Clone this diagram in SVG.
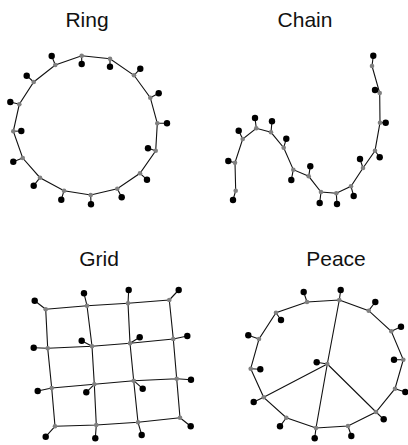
<svg xmlns="http://www.w3.org/2000/svg" width="408" height="445" viewBox="0 0 408 445">
<style>
text{font-family:"Liberation Sans",Arial,sans-serif;font-size:21px;fill:#111;text-anchor:middle}
.e{fill:none;stroke:#111;stroke-width:1.1}
.g{fill:#808080}
.b{fill:#000}
</style>
<rect width="408" height="445" fill="#fff"/>
<text x="87" y="27">Ring</text>
<text x="305" y="27">Chain</text>
<text x="99" y="266">Grid</text>
<text x="336" y="266">Peace</text>
<g id="connectors">
<polygon class="e" points="81.7,55.7 110,58.7 134,75.3 150.3,97.7 157.3,123.3 155.7,150.7 140,173.3 117.3,188.7 90.7,195 64,190.7 40,177.7 22.7,158 13.3,131.3 19.3,104.3 33.7,82 55.3,65"/>
<path class="e" d="M81.7,55.7L81.7,64M110,58.7L110,66.7M134,75.3L140.3,68.7M150.3,97.7L158.7,93.3M157.3,123.3L167,123.3M155.7,150.7L148,148.3M140,173.3L147,179.7M117.3,188.7L121.7,197.3M90.7,195L91,204.3M64,190.7L61.3,199.7M40,177.7L33.7,185.7M22.7,158L13.3,161.7M13.3,131.3L21.3,131M19.3,104.3L10.3,102M33.7,82L26.7,75.7M55.3,65L51.7,56"/>
<polyline class="e" points="372,66 379.7,93 380,122.7 375,150.7 363,168 351,186.3 336.3,193.3 321,192 308.7,176.3 293.3,169.7 283.7,147.7 271,132.3 256.3,128.3 242.7,139 235,162.7 235.7,190.7"/>
<path class="e" d="M372,66L373.3,55.7M379.7,93L375,90M380,122.7L385.7,122.7M375,150.7L379.7,157.3M363,168L360,159M351,186.3L353.7,196M336.3,193.3L337,204M321,192L319.7,203M308.7,176.3L310.3,166.3M293.3,169.7L291.3,180M283.7,147.7L286.3,138.7M271,132.3L272,121.3M256.3,128.3L255,118M242.7,139L238.7,130.7M235,162.7L228.3,161M235.7,190.7L233,200"/>
<path class="e" d="M45.7,309.3L87,305.7L128,303.3L169.3,300M47.7,348.3L92,346.3L130,343.3L173.3,339M51.7,388L94.3,384.3L133.7,380.7L176.7,378.7M55,426.3L96.3,425L138,422.3L180,417.7M45.7,309.3L47.7,348.3L51.7,388L55,426.3M87,305.7L92,346.3L94.3,384.3L96.3,425M128,303.3L130,343.3L133.7,380.7L138,422.3M169.3,300L173.3,339L176.7,378.7L180,417.7"/>
<path class="e" d="M45.7,309.3L34.7,300.7M87,305.7L84,293.3M128,303.3L128.7,290M169.3,300L178.7,290M47.7,348.3L33.7,347.7M92,346.3L81.7,340.7M130,343.3L139.7,337.3M173.3,339L187.3,336M51.7,388L37.7,391M94.3,384.3L86.3,392.3M133.7,380.7L142.7,388.7M176.7,378.7L191,379.7M55,426.3L45.7,436.7M96.3,425L95.3,438.3M138,422.3L141.7,435M180,417.7L190.7,426.3"/>
<polygon class="e" points="339.3,300 368.7,310.7 391.3,331.3 403.3,359.7 395,388.7 376,412 348,426 316,428 286.3,417.7 263.7,397.3 250.7,368.7 259,339 276,312.7 307,302"/>
<path class="e" d="M327.3,364L339.3,300M327.3,364L316,428M327.3,364L263.7,397.3M327.3,364L376,412"/>
<path class="e" d="M339.3,300L340.7,290M368.7,310.7L375.3,302M391.3,331.3L401,326.7M403.3,359.7L394,359.7M395,388.7L405.3,392M376,412L383.7,419.3M348,426L351.3,436M316,428L314.7,438.3M286.3,417.7L280,426.3M263.7,397.3L253.7,402M250.7,368.7L260.3,369.3M259,339L248.3,335.3M276,312.7L281,320M307,302L303.7,292M327.3,364L316.7,362.3"/>
</g>
<g id="ring">
<g class="g"><circle cx="81.7" cy="55.7" r="2.3"/><circle cx="110" cy="58.7" r="2.3"/><circle cx="134" cy="75.3" r="2.3"/><circle cx="150.3" cy="97.7" r="2.3"/><circle cx="157.3" cy="123.3" r="2.3"/><circle cx="155.7" cy="150.7" r="2.3"/><circle cx="140" cy="173.3" r="2.3"/><circle cx="117.3" cy="188.7" r="2.3"/><circle cx="90.7" cy="195" r="2.3"/><circle cx="64" cy="190.7" r="2.3"/><circle cx="40" cy="177.7" r="2.3"/><circle cx="22.7" cy="158" r="2.3"/><circle cx="13.3" cy="131.3" r="2.3"/><circle cx="19.3" cy="104.3" r="2.3"/><circle cx="33.7" cy="82" r="2.3"/><circle cx="55.3" cy="65" r="2.3"/></g>
<g class="b"><circle cx="81.7" cy="64" r="3.2"/><circle cx="110" cy="66.7" r="3.2"/><circle cx="140.3" cy="68.7" r="3.2"/><circle cx="158.7" cy="93.3" r="3.2"/><circle cx="167" cy="123.3" r="3.2"/><circle cx="148" cy="148.3" r="3.2"/><circle cx="147" cy="179.7" r="3.2"/><circle cx="121.7" cy="197.3" r="3.2"/><circle cx="91" cy="204.3" r="3.2"/><circle cx="61.3" cy="199.7" r="3.2"/><circle cx="33.7" cy="185.7" r="3.2"/><circle cx="13.3" cy="161.7" r="3.2"/><circle cx="21.3" cy="131" r="3.2"/><circle cx="10.3" cy="102" r="3.2"/><circle cx="26.7" cy="75.7" r="3.2"/><circle cx="51.7" cy="56" r="3.2"/></g>
</g>
<g id="chain">
<g class="g"><circle cx="372" cy="66" r="2.3"/><circle cx="379.7" cy="93" r="2.3"/><circle cx="380" cy="122.7" r="2.3"/><circle cx="375" cy="150.7" r="2.3"/><circle cx="363" cy="168" r="2.3"/><circle cx="351" cy="186.3" r="2.3"/><circle cx="336.3" cy="193.3" r="2.3"/><circle cx="321" cy="192" r="2.3"/><circle cx="308.7" cy="176.3" r="2.3"/><circle cx="293.3" cy="169.7" r="2.3"/><circle cx="283.7" cy="147.7" r="2.3"/><circle cx="271" cy="132.3" r="2.3"/><circle cx="256.3" cy="128.3" r="2.3"/><circle cx="242.7" cy="139" r="2.3"/><circle cx="235" cy="162.7" r="2.3"/><circle cx="235.7" cy="190.7" r="2.3"/></g>
<g class="b"><circle cx="373.3" cy="55.7" r="3.2"/><circle cx="375" cy="90" r="3.2"/><circle cx="385.7" cy="122.7" r="3.2"/><circle cx="379.7" cy="157.3" r="3.2"/><circle cx="360" cy="159" r="3.2"/><circle cx="353.7" cy="196" r="3.2"/><circle cx="337" cy="204" r="3.2"/><circle cx="319.7" cy="203" r="3.2"/><circle cx="310.3" cy="166.3" r="3.2"/><circle cx="291.3" cy="180" r="3.2"/><circle cx="286.3" cy="138.7" r="3.2"/><circle cx="272" cy="121.3" r="3.2"/><circle cx="255" cy="118" r="3.2"/><circle cx="238.7" cy="130.7" r="3.2"/><circle cx="228.3" cy="161" r="3.2"/><circle cx="233" cy="200" r="3.2"/></g>
</g>
<g id="grid">
<g class="g"><circle cx="45.7" cy="309.3" r="2.3"/><circle cx="87" cy="305.7" r="2.3"/><circle cx="128" cy="303.3" r="2.3"/><circle cx="169.3" cy="300" r="2.3"/><circle cx="47.7" cy="348.3" r="2.3"/><circle cx="92" cy="346.3" r="2.3"/><circle cx="130" cy="343.3" r="2.3"/><circle cx="173.3" cy="339" r="2.3"/><circle cx="51.7" cy="388" r="2.3"/><circle cx="94.3" cy="384.3" r="2.3"/><circle cx="133.7" cy="380.7" r="2.3"/><circle cx="176.7" cy="378.7" r="2.3"/><circle cx="55" cy="426.3" r="2.3"/><circle cx="96.3" cy="425" r="2.3"/><circle cx="138" cy="422.3" r="2.3"/><circle cx="180" cy="417.7" r="2.3"/></g>
<g class="b"><circle cx="34.7" cy="300.7" r="3.2"/><circle cx="84" cy="293.3" r="3.2"/><circle cx="128.7" cy="290" r="3.2"/><circle cx="178.7" cy="290" r="3.2"/><circle cx="33.7" cy="347.7" r="3.2"/><circle cx="81.7" cy="340.7" r="3.2"/><circle cx="139.7" cy="337.3" r="3.2"/><circle cx="187.3" cy="336" r="3.2"/><circle cx="37.7" cy="391" r="3.2"/><circle cx="86.3" cy="392.3" r="3.2"/><circle cx="142.7" cy="388.7" r="3.2"/><circle cx="191" cy="379.7" r="3.2"/><circle cx="45.7" cy="436.7" r="3.2"/><circle cx="95.3" cy="438.3" r="3.2"/><circle cx="141.7" cy="435" r="3.2"/><circle cx="190.7" cy="426.3" r="3.2"/></g>
</g>
<g id="peace">
<g class="g"><circle cx="339.3" cy="300" r="2.3"/><circle cx="368.7" cy="310.7" r="2.3"/><circle cx="391.3" cy="331.3" r="2.3"/><circle cx="403.3" cy="359.7" r="2.3"/><circle cx="395" cy="388.7" r="2.3"/><circle cx="376" cy="412" r="2.3"/><circle cx="348" cy="426" r="2.3"/><circle cx="316" cy="428" r="2.3"/><circle cx="286.3" cy="417.7" r="2.3"/><circle cx="263.7" cy="397.3" r="2.3"/><circle cx="250.7" cy="368.7" r="2.3"/><circle cx="259" cy="339" r="2.3"/><circle cx="276" cy="312.7" r="2.3"/><circle cx="307" cy="302" r="2.3"/><circle cx="327.3" cy="364" r="2.3"/></g>
<g class="b"><circle cx="340.7" cy="290" r="3.2"/><circle cx="375.3" cy="302" r="3.2"/><circle cx="401" cy="326.7" r="3.2"/><circle cx="394" cy="359.7" r="3.2"/><circle cx="405.3" cy="392" r="3.2"/><circle cx="383.7" cy="419.3" r="3.2"/><circle cx="351.3" cy="436" r="3.2"/><circle cx="314.7" cy="438.3" r="3.2"/><circle cx="280" cy="426.3" r="3.2"/><circle cx="253.7" cy="402" r="3.2"/><circle cx="260.3" cy="369.3" r="3.2"/><circle cx="248.3" cy="335.3" r="3.2"/><circle cx="281" cy="320" r="3.2"/><circle cx="303.7" cy="292" r="3.2"/><circle cx="316.7" cy="362.3" r="3.2"/></g>
</g>
</svg>
